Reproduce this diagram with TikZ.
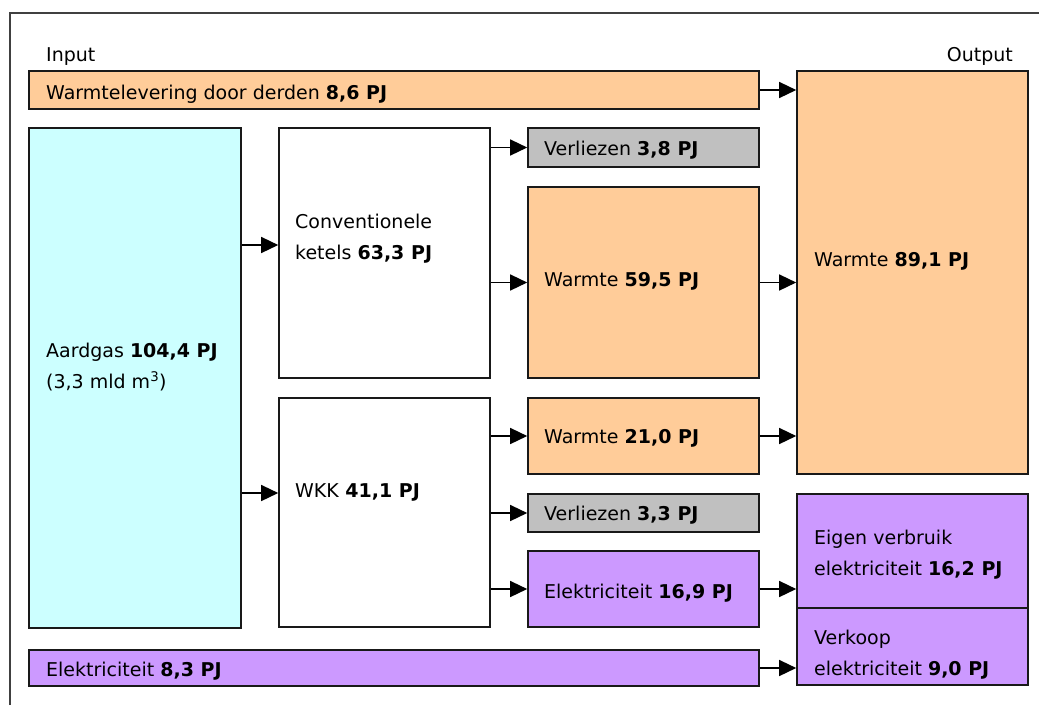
\documentclass[tikz,border=0pt]{standalone}
\usepackage{fontspec}
\setmainfont{DejaVu Sans}
\usetikzlibrary{arrows.meta,fit}
\definecolor{heat}{HTML}{FFCC99}
\definecolor{gas}{HTML}{CCFFFF}
\definecolor{loss}{HTML}{C0C0C0}
\definecolor{elec}{HTML}{CC99FF}
\begin{document}
\begin{tikzpicture}[x=1pt, y=-1pt,
    box/.style={draw=black!90, line width=1.6pt, inner sep=0pt},
    txt/.style={anchor=base west, inner sep=0pt, align=left, font=\fontsize{19}{31}\selectfont},
    arr/.style={-{Triangle[length=17pt,width=16pt]}, line width=1.4pt}]
  \useasboundingbox (0,0) rectangle (1039,705);
  \draw[line width=1.3pt, black!75] (10,705) |- (1039,13);

  \node[txt] (input) at (46,61) {Input};
  \node[txt, anchor=base east] (output) at (1013,61) {Output};

  % boxes
  \node[box, fill=heat, fit={(29,71) (759,109)}] (warmlev) {};
  \node[box, fill=gas, fit={(29,128) (241,628)}] (aardgas) {};
  \node[box, fill=elec, fit={(29,650) (759,686)}] (elek83) {};
  \node[box, fill=white, fit={(279,128) (490,378)}] (conv) {};
  \node[box, fill=white, fit={(279,398) (490,627)}] (wkk) {};
  \node[box, fill=loss, fit={(528,128) (759,167)}] (verl38) {};
  \node[box, fill=heat, fit={(528,187) (759,378)}] (warm595) {};
  \node[box, fill=heat, fit={(528,398) (759,474)}] (warm210) {};
  \node[box, fill=loss, fit={(528,494) (759,532)}] (verl33) {};
  \node[box, fill=elec, fit={(528,551) (759,627)}] (elek169) {};
  \node[box, fill=heat, fit={(797,71) (1028,474)}] (warm891) {};
  \node[box, fill=elec, fit={(797,494) (1028,608)}] (eigen) {};
  \node[box, fill=elec, fit={(797,608) (1028,685)}] (verkoop) {};

  % texts (base = last line)
  \node[txt] (twarmlev) at (46,99) {Warmtelevering door derden \textbf{8,6 PJ}};
  \node[txt] (taardgas) at (46,388) {Aardgas \textbf{104,4 PJ}\\(3,3 mld m\textsuperscript{3})};
  \node[txt] (telek83) at (46,676) {Elektriciteit \textbf{8,3 PJ}};
  \node[txt] (tconv) at (295,259) {Conventionele\\ketels \textbf{63,3 PJ}};
  \node[txt] (twkk) at (295,497) {WKK \textbf{41,1 PJ}};
  \node[txt] (tverl38) at (544,155) {Verliezen \textbf{3,8 PJ}};
  \node[txt] (twarm595) at (544,286) {Warmte \textbf{59,5 PJ}};
  \node[txt] (twarm210) at (544,443) {Warmte \textbf{21,0 PJ}};
  \node[txt] (tverl33) at (544,520) {Verliezen \textbf{3,3 PJ}};
  \node[txt] (telek169) at (544,598) {Elektriciteit \textbf{16,9 PJ}};
  \node[txt] (twarm891) at (814,266) {Warmte \textbf{89,1 PJ}};
  \node[txt] (teigen) at (814,575) {Eigen verbruik\\elektriciteit \textbf{16,2 PJ}};
  \node[txt] (tverkoop) at (814,675) {Verkoop\\elektriciteit \textbf{9,0 PJ}};

  % arrows
  \draw[arr] ([yshift=8pt]conv.west -| aardgas.east) -- ([yshift=8pt]conv.west);
  \draw[arr] ([yshift=19.5pt]wkk.west -| aardgas.east) -- ([yshift=19.5pt]wkk.west);
  \foreach \t in {verl38, warm595}
    \draw[arr] (\t.west -| conv.east) -- (\t.west);
  \foreach \t in {warm210, verl33, elek169}
    \draw[arr] (\t.west -| wkk.east) -- (\t.west);
  \draw[arr] (warmlev.east) -- (warmlev.east -| warm891.west);
  \draw[arr] (warm595.east) -- (warm595.east -| warm891.west);
  \draw[arr] (warm210.east) -- (warm210.east -| warm891.west);
  \draw[arr] (elek169.east) -- (elek169.east -| eigen.west);
  \draw[arr] (elek83.east) -- (elek83.east -| verkoop.west);
\end{tikzpicture}
\end{document}
